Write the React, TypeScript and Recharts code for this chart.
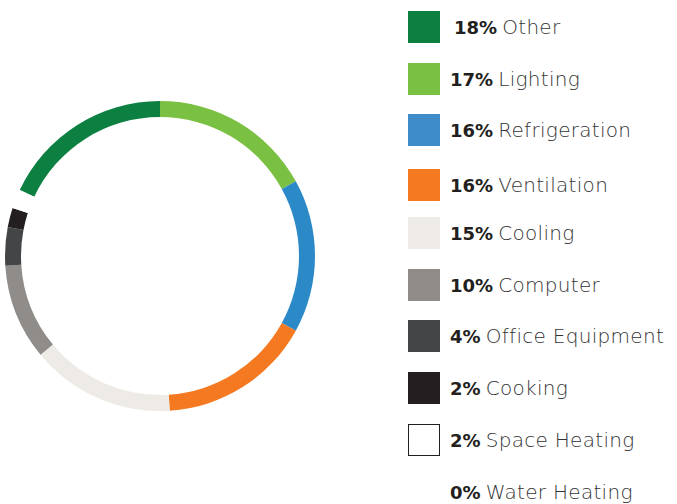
import { Cell, Legend, Pie, PieChart } from "recharts";

const categories = [
  "Other",
  "Lighting",
  "Refrigeration",
  "Ventilation",
  "Cooling",
  "Computer",
  "Office Equipment",
  "Cooking",
  "Space Heating",
  "Water Heating",
];
const shares = [18, 17, 16, 16, 15, 10, 4, 2, 2, 0];
const colors = [
  "#0c8040",
  "#7ac143",
  "#2b89c8",
  "#f47920",
  "#eeeae6",
  "#8f8c89",
  "#444547",
  "#231f20",
  "#ffffff",
  "#ffffff",
];
const swatchColors = [
  "#0c8040",
  "#7ac143",
  "#3f8ccb",
  "#f47920",
  "#eeeae6",
  "#8f8c89",
  "#444547",
  "#231f20",
  "#ffffff",
  "none",
];

const data = categories.map((name, i) => ({
  name,
  value: shares[i],
  color: colors[i],
  swatch: swatchColors[i],
}));

const total = shares.reduce((a, b) => a + b, 0);
// "Other" sits just before 12 o'clock, everything else runs clockwise from the top
const startAngle = 90 + (shares[0] / total) * 360;

const rowTops = [0, 52, 103, 158, 206, 258, 309, 361, 413, 465];

const renderLegend = () => (
  <div style={{ position: "relative", height: 504 }}>
    {data.map((entry, index) => (
      <div
        key={index}
        style={{
          position: "absolute",
          top: rowTops[index],
          left: 0,
          display: "flex",
          alignItems: "center",
          height: 32,
        }}
      >
        <div
          style={{
            boxSizing: "border-box",
            width: 32,
            height: 32,
            background: entry.swatch === "none" ? "transparent" : entry.swatch,
            border: entry.name === "Space Heating" ? "1px solid #231f20" : "none",
            marginRight: index === 0 ? 14 : 10,
          }}
        />
        <span
          style={{
            fontFamily: "'DejaVu Sans', sans-serif",
            color: "#231f20",
            whiteSpace: "nowrap",
          }}
        >
          <b style={{ fontWeight: 700, fontSize: 18 }}>{entry.value}%</b>{" "}
          <span
            style={{
              fontWeight: 200,
              fontSize: 20,
              letterSpacing: 0.3,
              color: "#333",
            }}
          >
            {entry.name}
          </span>
        </span>
      </div>
    ))}
  </div>
);

export default function App() {
  return (
    <div style={{ position: "absolute", left: 0, top: 0 }}>
      <PieChart
        width={677}
        height={504}
        margin={{ top: 0, right: 0, bottom: 0, left: 0 }}
      >
        <Pie
          data={data}
          dataKey="value"
          cx={160}
          cy={256}
          outerRadius={155}
          innerRadius={139}
          startAngle={startAngle}
          endAngle={startAngle - 360}
          stroke="none"
          isAnimationActive={false}
        >
          {data.map((entry, index) => (
            <Cell key={index} fill={entry.color} />
          ))}
        </Pie>
        <Legend
          content={renderLegend}
          layout="vertical"
          wrapperStyle={{ position: "absolute", left: 408, top: 11, width: 269 }}
        />
      </PieChart>
    </div>
  );
}
